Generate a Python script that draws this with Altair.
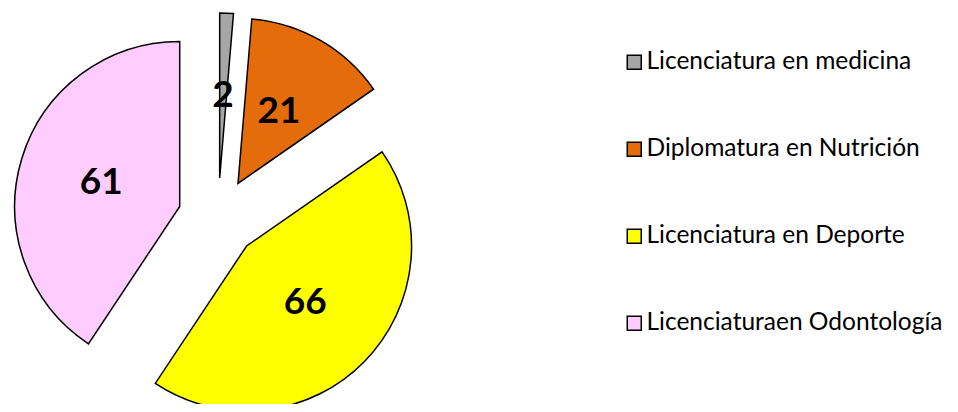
import altair as alt
import pandas as pd

categories = ["Licenciatura en medicina", "Diplomatura en Nutrición",
              "Licenciatura en Deporte", "Licenciaturaen Odontología"]
values = [2, 21, 66, 61]
colors = ["#A6A6A6", "#E46C0A", "#FFFF00", "#FFCCFF"]

df = pd.DataFrame({"cat": categories, "val": values, "order": list(range(len(values)))})

CX, CY = 210, 210      # pie centre (px)
R = 165                # radius
EXPLODE = 40           # explosion offset
LABEL_R = 122          # label distance from pie centre

base = alt.Chart(df).transform_joinaggregate(
    total="sum(val)"
).transform_window(
    cum="sum(val)", sort=[alt.SortField("order")], frame=[None, 0]
).transform_calculate(
    t1="datum.cum / datum.total * 2 * PI",
    t0="(datum.cum - datum.val) / datum.total * 2 * PI",
).transform_calculate(
    mid="(datum.t0 + datum.t1) / 2"
).transform_calculate(
    ax=f"{CX} + {EXPLODE} * sin(datum.mid)",
    ay=f"{CY} - {EXPLODE} * cos(datum.mid)",
    lx=f"{CX} + {LABEL_R} * sin(datum.mid)",
    ly=f"{CY} - {LABEL_R} * cos(datum.mid)",
)

arcs = base.mark_arc(radius=R, stroke="black", strokeWidth=1.5).encode(
    theta=alt.Theta("t0:Q", scale=None),
    theta2="t1:Q",
    x=alt.X("ax:Q", scale=None),
    y=alt.Y("ay:Q", scale=None),
    color=alt.Color(
        "cat:N",
        scale=alt.Scale(domain=categories, range=colors),
        sort=categories,
        legend=alt.Legend(
            title=None, orient="none", legendX=614, legendY=42,
            symbolType="square", symbolSize=196, symbolStrokeColor="black",
            symbolStrokeWidth=1.5, symbolOpacity=1,
            labelFont="Lato", labelFontSize=24.5, labelColor="black",
            labelLimit=400, labelOffset=0, rowPadding=62, padding=0,
        ),
    ),
)

labels = base.mark_text(font="Lato", fontSize=37, fontWeight="bold",
                        color="black", align="center", baseline="middle").encode(
    x=alt.X("lx:Q", scale=None),
    y=alt.Y("ly:Q", scale=None),
    text="val:Q",
)

chart = (arcs + labels).properties(
    width=942, height=396, padding=0, autosize=alt.AutoSizeParams(type="none")
).configure_view(stroke=None)

chart.save("out.html", embed_options={"renderer": "svg", "actions": False})
